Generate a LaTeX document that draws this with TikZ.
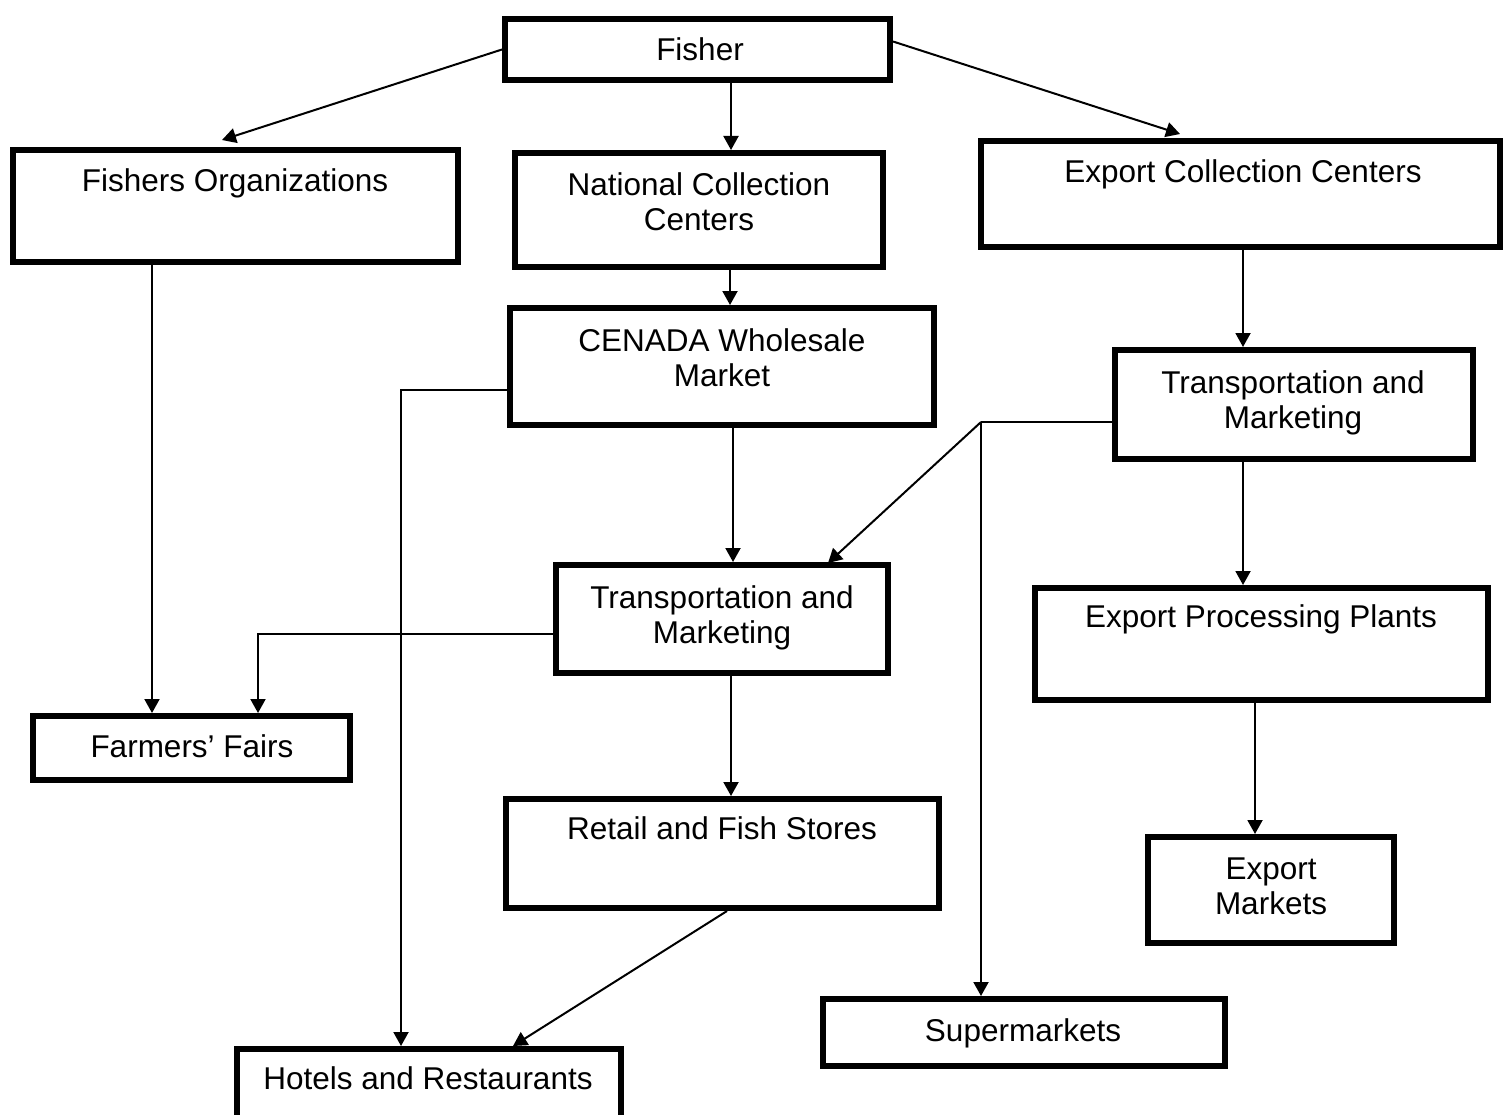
\documentclass[tikz,border=0pt]{standalone}
\usepackage{fontspec}
\setmainfont{Liberation Sans}
\usetikzlibrary{arrows.meta,calc}
\begin{document}
\begin{tikzpicture}[x=1pt,y=-1pt,
  box/.style={draw,line width=6pt,inner sep=0pt},
  lbl/.style={font=\fontsize{31.5}{35}\selectfont,align=center,inner sep=0pt,anchor=base},
  conn/.style={line width=2pt},
  arr/.style={conn,-{Triangle[length=14pt,width=15pt]}}]
\useasboundingbox (0,0) rectangle (1503,1115);
% boxes
\node[box,minimum width=385pt,minimum height=61pt] (fisher) at (697.5,49.5) {};
\node[box,minimum width=445pt,minimum height=112pt] (fo) at (235.5,206) {};
\node[box,minimum width=368pt,minimum height=114pt] (ncc) at (699,210) {};
\node[box,minimum width=519pt,minimum height=106pt] (ecc) at (1240.5,194) {};
\node[box,minimum width=424pt,minimum height=117pt] (cenada) at (722,366.5) {};
\node[box,minimum width=358pt,minimum height=109pt] (tmr) at (1294,404.5) {};
\node[box,minimum width=332pt,minimum height=108pt] (tmc) at (722,619) {};
\node[box,minimum width=453pt,minimum height=112pt] (epp) at (1261.5,644) {};
\node[box,minimum width=317pt,minimum height=64pt] (ff) at (191.5,748) {};
\node[box,minimum width=433pt,minimum height=109pt] (rfs) at (722.5,853.5) {};
\node[box,minimum width=246pt,minimum height=106pt] (em) at (1271,890) {};
\node[box,minimum width=402pt,minimum height=67pt] (sm) at (1024,1032.5) {};
\node[box,minimum width=384pt,minimum height=91pt] (hr) at (429,1094.5) {};
% labels (base = baseline of last line)
\node[lbl] (fisherT) at (700,61) {Fisher};
\node[lbl] (foT) at (235,192) {Fishers Organizations};
\node[lbl] (nccT) at (699,231) {National Collection\\Centers};
\node[lbl] (eccT) at (1243,183) {Export Collection Centers};
\node[lbl] (cenadaT) at (722,386) {CENADA Wholesale\\Market};
\node[lbl] (tmrT) at (1293,428) {Transportation and\\Marketing};
\node[lbl] (tmcT) at (722,643) {Transportation and\\Marketing};
\node[lbl] (eppT) at (1261,627) {Export Processing Plants};
\node[lbl] (ffT) at (192,757) {Farmers’ Fairs};
\node[lbl] (rfsT) at (722,839) {Retail and Fish Stores};
\node[lbl] (emT) at (1271,914) {Export\\Markets};
\node[lbl] (smT) at (1023,1041) {Supermarkets};
\node[lbl] (hrT) at (428,1089) {Hotels and Restaurants};
% free ends / junctions
\coordinate (tipFO) at (222,140);
\coordinate (tipECC) at (1180,134);
\coordinate (J) at (981,422);
\coordinate (tipTMC) at (828,563);
% connectors
\draw[arr] (fisher.west) -- (tipFO);
\draw[arr] ([yshift=8pt]fisher.east) -- (tipECC);
\draw[arr] ([xshift=33.5pt]fisher.south) -- ([xshift=32pt]ncc.north);
\draw[arr] ([xshift=-83.5pt]fo.south) -- ([xshift=-39.5pt]ff.north);
\draw[arr] ([xshift=31pt]ncc.south) -- ([xshift=8pt]cenada.north);
\draw[arr] ([xshift=11pt]cenada.south) -- ([xshift=11pt]tmc.north);
\draw[arr] ([yshift=-23.5pt]cenada.west) -| ([xshift=-28pt]hr.north);
\draw[arr] ([xshift=2.5pt]ecc.south) -- ([xshift=-51pt]tmr.north);
\draw[conn] ([yshift=-17.5pt]tmr.west) -- (J);
\draw[arr] (J) -- (tipTMC);
\draw[arr] (J) -- (J |- sm.north);
\draw[arr] ([xshift=-51pt]tmr.south) -- ([xshift=-18.5pt]epp.north);
\draw[arr] ([yshift=-15pt]tmc.west) -| ([xshift=66.5pt]ff.north);
\draw[arr] ([xshift=9pt]tmc.south) -- ([xshift=8.5pt]rfs.north);
\draw[arr] ([xshift=-6.5pt]epp.south) -- ([xshift=-16pt]em.north);
\draw[arr] ([xshift=4.5pt]rfs.south) -- ([xshift=84pt]hr.north);
\end{tikzpicture}
\end{document}
